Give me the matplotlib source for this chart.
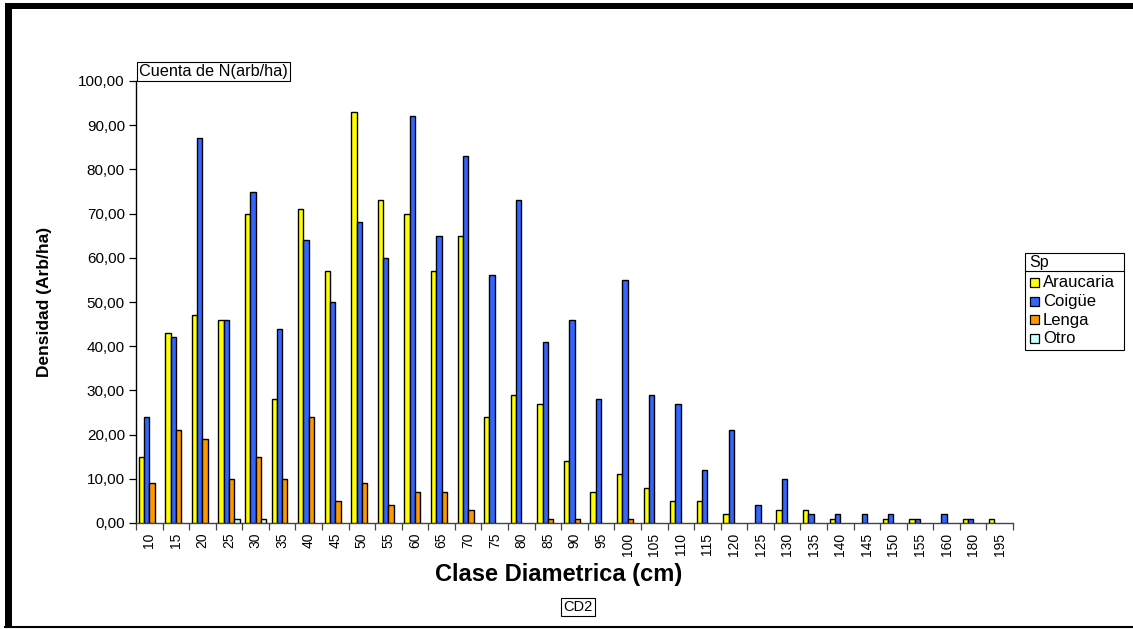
import matplotlib
matplotlib.use("Agg")
import matplotlib.pyplot as plt
from matplotlib.patches import Rectangle
from matplotlib.lines import Line2D
import numpy as np

plt.rcParams['font.family'] = ['Liberation Sans', 'DejaVu Sans']

# Clases diametricas (cm) y densidad por especie (arb/ha)
clases = ["10", "15", "20", "25", "30", "35", "40", "45", "50", "55", "60",
          "65", "70", "75", "80", "85", "90", "95", "100", "105", "110",
          "115", "120", "125", "130", "135", "140", "145", "150", "155",
          "160", "180", "195"]
araucaria = [15, 43, 47, 46, 70, 28, 71, 57, 93, 73, 70, 57, 65, 24, 29, 27,
             14, 7, 11, 8, 5, 5, 2, 0, 3, 3, 1, 0, 1, 1, 0, 1, 1]
coigue = [24, 42, 87, 46, 75, 44, 64, 50, 68, 60, 92, 65, 83, 56, 73, 41,
          46, 28, 55, 29, 27, 12, 21, 4, 10, 2, 2, 2, 2, 1, 2, 1, 0]
lenga = [9, 21, 19, 10, 15, 10, 24, 5, 9, 4, 7, 7, 3, 0, 0, 1,
         1, 0, 1, 0, 0, 0, 0, 0, 0, 0, 0, 0, 0, 0, 0, 0, 0]
otro = [0, 0, 0, 1, 1, 0, 0, 0, 0, 0, 0, 0, 0, 0, 0, 0,
        0, 0, 0, 0, 0, 0, 0, 0, 0, 0, 0, 0, 0, 0, 0, 0, 0]

especies = ["Araucaria", "Coigüe", "Lenga", "Otro"]
colores = ["#FFFF00", "#3366FF", "#FF9900", "#CCFFFF"]
series = [araucaria, coigue, lenga, otro]

W, H = 1133, 629
fig = plt.figure(figsize=(W / 100, H / 100), dpi=100)


def fx(x):
    return x / W


def fy(y):
    return 1 - y / H


ax = fig.add_axes([fx(136), fy(523), 877 / W, 442 / H])

x = np.arange(len(clases))
ancho = 0.2
for j, (serie, color) in enumerate(zip(series, colores)):
    serie = np.array(serie)
    m = serie > 0
    ax.bar(x[m] + 0.1 + ancho * j, serie[m], width=ancho, align='edge',
           color=color, edgecolor='black', linewidth=1.0, zorder=3)

ax.set_xlim(0, len(clases))
ax.set_ylim(0, 100)
ax.set_yticks(np.arange(0, 101, 10))
ax.set_yticklabels([f"{v:.2f}".replace('.', ',') for v in range(0, 101, 10)])
ax.set_xticks(np.arange(0, len(clases) + 1))
ax.set_xticklabels([])
ax.set_xticks(x + 0.5, minor=True)
ax.set_xticklabels(clases, minor=True, rotation=90)

ax.tick_params(axis='y', length=5, width=0.9, labelsize=11, pad=3)
ax.tick_params(axis='x', which='major', length=5, width=0.9, color='#444444')
ax.tick_params(axis='x', which='minor', length=0, labelsize=10, pad=7)

for s in ['top', 'right']:
    ax.spines[s].set_visible(False)
ax.spines['left'].set_linewidth(1)
ax.spines['bottom'].set_linewidth(1)
ax.spines['bottom'].set_color('#444444')

# Titulos de ejes
fig.text(fx(45), fy(302), "Densidad (Arb/ha)", rotation=90, ha='center',
         va='center', fontsize=12.5, fontweight='bold')
fig.text(fx(559), fy(575), "Clase Diametrica (cm)", ha='center',
         va='center', fontsize=17, fontweight='bold')

caja = dict(boxstyle='square,pad=0.15', fc='white', ec='black', lw=0.8)
fig.text(fx(139), fy(71.5), "Cuenta de N(arb/ha)", ha='left', va='center',
         fontsize=11.7, bbox=caja)
fig.text(fx(578), fy(607), "CD2", ha='center', va='center', fontsize=10.5,
         bbox=caja)

# Leyenda
fig.patches.append(Rectangle((fx(1025), fy(350)), 99 / W, 97 / H,
                             transform=fig.transFigure, fc='white',
                             ec='black', lw=0.8))
fig.lines.append(Line2D([fx(1025), fx(1124)], [fy(271), fy(271)],
                        transform=fig.transFigure, color='black', lw=0.8))
fig.text(fx(1029), fy(262), "Sp", ha='left', va='center', fontsize=11.5)
for k, (nombre, color) in enumerate(zip(especies, colores)):
    yc = 283 + k * 18.5
    fig.patches.append(Rectangle((fx(1030), fy(yc + 4)), 9 / W, 9 / H,
                                 transform=fig.transFigure, fc=color,
                                 ec='black', lw=0.9))
    fig.text(fx(1043), fy(yc), nombre, ha='left', va='center', fontsize=12)

# Marco
fig.patches.append(Rectangle((fx(5), fy(9)), (W - 5) / W, 6 / H,
                             transform=fig.transFigure, fc='black', ec='none'))
fig.patches.append(Rectangle((fx(5), fy(627)), 7 / W, 624 / H,
                             transform=fig.transFigure, fc='black', ec='none'))
fig.lines.append(Line2D([fx(5), fx(W)], [fy(627), fy(627)],
                        transform=fig.transFigure, color='black', lw=1.5))

fig.savefig("out.png", dpi=100)
